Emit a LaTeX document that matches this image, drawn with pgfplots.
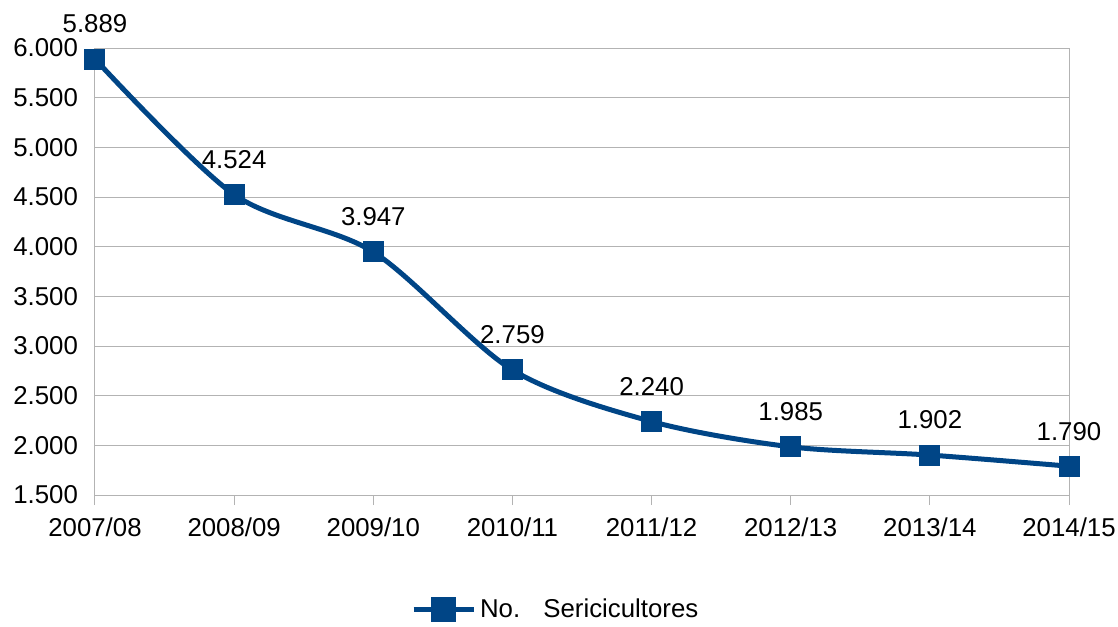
\documentclass[border=0pt]{standalone}
\usepackage{pgfplots}
\pgfplotsset{compat=1.18}
\usepackage{fontspec}
\setmainfont{Liberation Sans}
\definecolor{serie}{HTML}{004586}
\definecolor{gridc}{HTML}{B3B3B3}

\begin{document}
\begin{tikzpicture}
\useasboundingbox (-47.5pt,-65.5pt) rectangle (511.5pt,247.5pt);
\begin{axis}[
    at={(0pt,0pt)}, anchor=south west,
    scale only axis,
    width=487pt, height=223.5pt,
    xmin=0, xmax=7,
    ymin=1500, ymax=6000,
    xtick={0,...,7},
    xticklabels={2007/08,2008/09,2009/10,2010/11,2011/12,2012/13,2013/14,2014/15},
    ytick={1500,2000,...,6000},
    xtick pos=lower,
    ymajorgrids=true,
    grid style={gridc, line width=0.5pt},
    axis line style={gridc, line width=0.5pt},
    tick align=outside,
    major tick length=5pt,
    xtick style={gridc, line width=0.5pt},
    ytick style={draw=none},
    font=\fontsize{12.9}{14.5}\selectfont,
    /pgf/number format/assume math mode=true,
    /pgf/number format/.cd, 1000 sep={.}, fixed, precision=0,
    /pgfplots/.cd,
    yticklabel style={xshift=0pt},
    xticklabel style={yshift=-3pt},
    clip=false,
    legend style={at={(axis description cs:0.474,-0.257)}, anchor=center,
        draw=none, fill=none, font=\fontsize{12.9}{14.5}\selectfont,
        legend image code/.code={
            \draw[line width=2.5pt] (-3pt,0cm) -- (27pt,0cm);
            \draw[fill] (12pt,0cm) +(-5pt,-5pt) rectangle +(5pt,5pt);
        }},
    nodes near coords,
    point meta=explicit symbolic,
    every node near coord/.append style={anchor=center, yshift=17.5pt,
        font=\fontsize{12.9}{14.5}\selectfont, text=black},
]
\addplot[serie, line width=2.5pt, smooth, tension=0.5,
    mark=square*, mark size=5pt, mark options={solid, fill=serie, line width=0pt}]
    coordinates {
        (0,5889) [5.889]
        (1,4524) [4.524]
        (2,3947) [3.947]
        (3,2759) [2.759]
        (4,2240) [2.240]
        (5,1985) [1.985]
        (6,1902) [1.902]
        (7,1790) [1.790]
    };
\legend{No.\hspace{0.9em}Sericicultores}
\end{axis}
\end{tikzpicture}
\end{document}
